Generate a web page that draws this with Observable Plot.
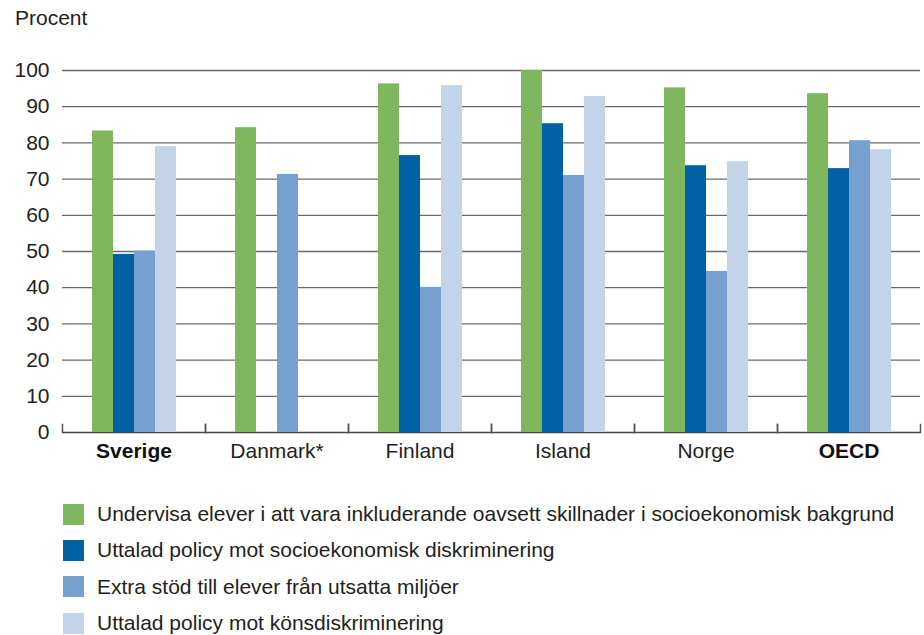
<!DOCTYPE html>
<html>
<head>
<meta charset="utf-8">
<script src="https://cdn.jsdelivr.net/npm/d3@7"></script>
<script src="https://cdn.jsdelivr.net/npm/@observablehq/plot@0.6"></script>
<style>
  body { margin: 0; background: #fff; font-family: "Liberation Sans", Arial, sans-serif; color: #222; }
  #wrap { width: 924px; }
  #unit { font-size: 21px; line-height: 21px; padding: 7px 0 0 15px; height: 33px; }
  #legend { padding-top: 16px; }
  .row { display: flex; align-items: center; height: 36.3px; font-size: 21px; }
  .sw { width: 21px; height: 21px; margin-left: 63px; margin-right: 13px; flex: none; }
</style>
</head>
<body>
<div id="wrap">
  <div id="unit">Procent</div>
  <div id="chart"></div>
  <div id="legend"></div>
</div>
<script>
// Countries along the x axis (the bold ones are highlighted)
const countries = ["Sverige", "Danmark*", "Finland", "Island", "Norge", "OECD"];
const boldCountries = ["Sverige", "OECD"];

// Policy series shown for each country
const series = [
  "Undervisa elever i att vara inkluderande oavsett skillnader i socioekonomisk bakgrund",
  "Uttalad policy mot socioekonomisk diskriminering",
  "Extra stöd till elever från utsatta miljöer",
  "Uttalad policy mot könsdiskriminering"
];
const colors = ["#7fb75e", "#0062a4", "#75a0cf", "#c2d3ea"];

// Percentages per series, in country order (null = no data)
const inkluderande   = [83.3, 84.2, 96.3, 100, 95.2, 93.6];
const socioekonomisk = [49.2, null, 76.5, 85.3, 73.7, 72.9];
const extraStod      = [50.1, 71.3, 40.1, 71.0, 44.5, 80.6];
const kon            = [79.0, null, 95.8, 92.8, 74.8, 78.1];

const yTicks = [0, 10, 20, 30, 40, 50, 60, 70, 80, 90, 100];

const valuesBySeries = [inkluderande, socioekonomisk, extraStod, kon];
const rows = [];
series.forEach((s, si) => {
  countries.forEach((c, ci) => {
    const v = valuesBySeries[si][ci];
    if (v != null) rows.push({country: c, series: s, value: v});
  });
});

const font = "'Liberation Sans', Arial, sans-serif";
const tickLen = 8;
const chart = Plot.plot({
  width: 924,
  height: 440,
  marginTop: 30,
  marginBottom: 48,
  marginLeft: 62,
  marginRight: 4,
  style: {fontFamily: font, fontSize: "21px", color: "#222"},
  fx: {domain: countries, paddingInner: 0, paddingOuter: 0, axis: null},
  x: {domain: series, paddingInner: 0, paddingOuter: 1.33, axis: null},
  y: {domain: [0, 100], axis: null},
  color: {domain: series, range: colors},
  marks: [
    Plot.ruleY(yTicks.filter(d => d > 0), {stroke: "#6a6a6a", strokeWidth: 1.3}),
    Plot.ruleY([0], {stroke: "#444", strokeWidth: 1.6}),
    // short ticks at the boundaries between country groups
    Plot.frame({anchor: "left", insetTop: 362 - tickLen, stroke: "#555", strokeWidth: 1.5}),
    Plot.frame({anchor: "right", insetTop: 362 - tickLen, stroke: "#555", strokeWidth: 1.5}),
    Plot.barY(rows, {fx: "country", x: "series", y: "value", fill: "series"}),
    Plot.axisY(yTicks, {anchor: "left", tickSize: 0, tickPadding: 13, label: null, fontSize: 21, facetAnchor: "left"}),
    // country names, one per facet
    Plot.text(countries.filter(c => !boldCountries.includes(c)), {
      fx: d => d, text: d => d, frameAnchor: "bottom", lineAnchor: "top", dy: 11,
      fontSize: 21, fill: "#222"
    }),
    Plot.text(boldCountries, {
      fx: d => d, text: d => d, frameAnchor: "bottom", lineAnchor: "top", dy: 11,
      fontSize: 21, fontWeight: "bold", fill: "#111"
    })
  ]
});
document.getElementById("chart").appendChild(chart);

// Vertical swatch legend
const legend = d3.select("#legend");
series.forEach((s, i) => {
  const row = legend.append("div").attr("class", "row");
  row.append("div").attr("class", "sw").style("background", colors[i]);
  row.append("span").text(s);
});
</script>
</body>
</html>
